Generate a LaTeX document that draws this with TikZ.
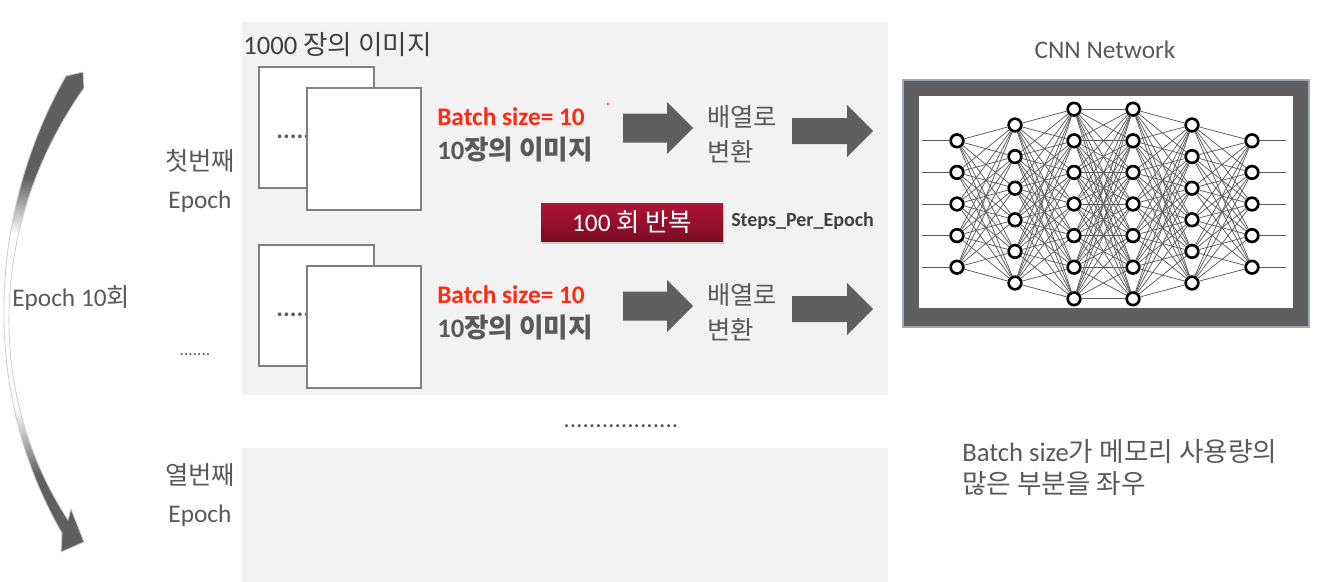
\documentclass[tikz,border=0pt]{standalone}
\usepackage{fontspec}
\setmainfont{Carlito}
\newfontfamily\kr{Noto Sans CJK KR}
\usetikzlibrary{positioning, shadows}
\definecolor{panelGrey}{HTML}{F2F2F2}
\definecolor{txtGrey}{HTML}{595959}
\definecolor{darkTxt}{HTML}{404040}
\definecolor{arrowGrey}{HTML}{5F5F5F}
\definecolor{cardEdge}{HTML}{808080}
\definecolor{batchRed}{HTML}{FF2A12}
\definecolor{btnTop}{HTML}{AE1538}
\definecolor{btnBot}{HTML}{7A0B22}
\definecolor{rimBlue}{HTML}{9FAAB5}
% dark at both ends, white in the middle of the epoch arrow
\pgfdeclareverticalshading{epochshade}{100bp}{color(0bp)=(arrowGrey); color(33bp)=(arrowGrey);
  color(40bp)=(white); color(58bp)=(white); color(64bp)=(arrowGrey); color(100bp)=(arrowGrey)}
\tikzset{
  lbl/.style        = {font=\fontsize{19}{23}\selectfont, text=txtGrey, inner sep=0pt},
  card/.style       = {fill=white, draw=cardEdge, line width=1.5pt},
  blockarrow/.style = {fill=arrowGrey},
  neuron/.style     = {circle, draw=black, fill=white, line width=2pt, minimum size=9.5pt, inner sep=0pt},
  wire/.style       = {draw=black!65, line width=0.55pt},
}

\begin{document}
\begin{tikzpicture}[x=0.75pt, y=-0.75pt,
    batch/.style={lbl, text=batchRed, font=\fontsize{19}{23}\selectfont\bfseries},
    btn/.style={rectangle, top color=btnTop, bottom color=btnBot, text=white,
      minimum width=136.5pt, minimum height=29pt, font=\fontsize{19}{23}\selectfont,
      drop shadow={shadow xshift=0.6pt, shadow yshift=-1.5pt, opacity=0.35}},
    epocharrow/.style={shading=epochshade, draw=gray!40, line width=0.6pt}]
  \useasboundingbox (0,0) rectangle (1322,582);
  % grey panels
  \fill[panelGrey] (242,22) rectangle (888,395);
  \fill[panelGrey] (242,448) rectangle (888,582);
  % epoch loop arrow
  \shadedraw[epocharrow] (66,76) -- (83,72) -- (84,88)
    .. controls (-8,218) and (-18,388) .. (68,520) -- (71,509) -- (84,542) -- (61,552) -- (62,533)
    .. controls (-20,392) and (-12,212) .. (66,76) -- cycle;
  \node[lbl, anchor=west] (count) at (12,298) {Epoch 10{\kr 회}};
  \node[lbl, align=center, font=\fontsize{19}{28.5}\selectfont] (first) at (200,181) {{\kr 첫번째}\\Epoch};
  \node[lbl, font=\fontsize{13}{15}\selectfont] (skipA) at (195,355) {.......};
  \node[lbl, align=center, font=\fontsize{19}{28.5}\selectfont] (tenth) at (200,495) {{\kr 열번째}\\Epoch};
  \node[lbl, text=darkTxt, anchor=west, font=\fontsize{20}{24}\selectfont] (total) at (243,45) {1000 {\kr 장의 이미지}};
  % two batches
  \foreach \dy [count=\r] in {0,178} {
    \begin{scope}[shift={(0,\dy)}]
      \draw[card] (259,67) rectangle (374,188);
      \node[lbl, text=arrowGrey, font=\fontsize{19}{23}\selectfont\bfseries, anchor=west] (more\r) at (276,137) {.....};
      \draw[card] (307,88) rectangle (421,210);
      \node[batch, anchor=west] (batch\r) at (437,117) {Batch size= 10};
      \node[lbl, font=\fontsize{20}{24}\selectfont\bfseries, anchor=west] (imgs\r) at (437,150) {10{\kr 장의 이미지}};
      \fill[blockarrow] (623,113.5) -- (667,113.5) -- (667,102) -- (693,128) -- (667,154) -- (667,142.5) -- (623,142.5) -- cycle;
      \node[lbl, align=left, anchor=west, font=\fontsize{19}{26.25}\selectfont] (conv\r) at (707,134.5) {{\kr 배열로}\\{\kr 변환}};
      \fill[blockarrow] (792,118) -- (847,118) -- (847,105) -- (873,131) -- (847,157) -- (847,144) -- (792,144) -- cycle;
    \end{scope}
  }
  \fill[batchRed] (608,104) circle (1.2);
  \node[btn] (repeat) at (632,222.5) {100 {\kr 회 반복}};
  \node[lbl, text=darkTxt, font=\fontsize{15}{18}\selectfont\bfseries, anchor=west] (steps) at (731,221) {Steps\_Per\_Epoch};
  \node[lbl] (skipB) at (621,426) {..................};
  % network
  \node[lbl] (cnn) at (1105,50) {CNN Network};
  \fill[arrowGrey] (903,80) rectangle (1309,327);
  \draw[rimBlue, line width=1pt] (903,80) rectangle (1309,327);
  \fill[white] (919,96) rectangle (1293,308);
  \foreach \lx/\n [count=\l] in {957/5, 1015/6, 1074/7, 1133/7, 1192/6, 1252/5}
    \foreach \k in {1,...,\n}
      \node[neuron] (n\l-\k) at (\lx,{204+(\k-(\n+1)/2)*31.6}) {};
  \foreach \a/\na/\b/\nb in {1/5/2/6, 2/6/3/7, 3/7/4/7, 4/7/5/6, 5/6/6/5}
    \foreach \i in {1,...,\na}
      \foreach \j in {1,...,\nb}
        \draw[wire] (n\a-\i) -- (n\b-\j);
  \coordinate (netin) at (922,204);
  \coordinate (netout) at (1286,204);
  \foreach \k in {1,...,5} {
    \draw[wire] (netin |- n1-\k) -- (n1-\k);
    \draw[wire] (n6-\k) -- (netout |- n6-\k);
  }
  \node[lbl, align=left, anchor=west, font=\fontsize{20}{24}\selectfont] (memo) at (962,468)
    {Batch size{\kr 가 메모리 사용량의}\\{\kr 많은 부분을 좌우}};
\end{tikzpicture}
\end{document}
